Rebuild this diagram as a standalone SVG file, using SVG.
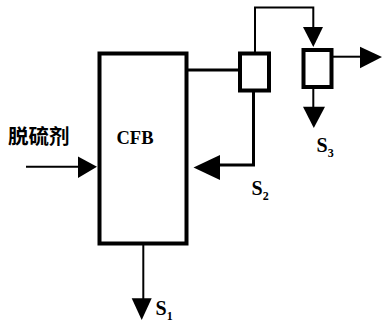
<svg xmlns="http://www.w3.org/2000/svg" width="382" height="325" viewBox="0 0 382 325">
<style>
.box{fill:#fff;stroke:#000;stroke-width:4}
.ln{fill:none;stroke:#000;stroke-width:2}
.lnb{fill:none;stroke:#000;stroke-width:3}
.ah{fill:#000;stroke:none}
.lbl{font-family:"Liberation Serif",serif;font-weight:bold;fill:#000}
.cjk{font-family:"Noto Sans CJK SC","Noto Sans CJK JP",sans-serif;font-weight:bold;fill:#000}
</style>
<rect width="382" height="325" fill="#fff"/>
<g id="connectors">
<path class="ln" d="M26,166.7 H80"/>
<polygon class="ah" points="78,156.5 97,166.7 78,178"/>
<path class="lnb" d="M188,70 H240"/>
<path class="ln" d="M255,52 V7.5 H313.3 V30"/>
<polygon class="ah" points="303,27 323,27 313.3,47"/>
<path class="lnb" d="M253.5,91 V165 H218"/>
<polygon class="ah" points="220,155 193.5,167.5 220,180"/>
<path class="ln" d="M333,56.7 H362"/>
<polygon class="ah" points="360,46.7 382,57 360,68.3"/>
<path class="ln" d="M313.3,87 V108"/>
<polygon class="ah" points="303,106.7 325,106.7 313.8,128"/>
<path class="ln" d="M143.3,244 V300"/>
<polygon class="ah" points="131.7,298.3 151.7,298.3 141.7,320"/>
</g>
<g id="cfb">
<rect class="box" x="99.5" y="53.5" width="87" height="190"/>
<text class="lbl" x="116.5" y="144" font-size="18.5">CFB</text>
</g>
<g id="sep1">
<rect class="box" x="240" y="53.5" width="29" height="37"/>
</g>
<g id="sep2">
<rect class="box" x="303.5" y="50" width="28" height="37"/>
</g>
<g id="labels">
<text class="cjk" x="8" y="144" font-size="20.5">脱硫剂</text>
<text class="lbl" x="251.5" y="195" font-size="20">S<tspan font-size="12" dy="5">2</tspan></text>
<text class="lbl" x="316.5" y="152" font-size="20">S<tspan font-size="12" dy="5">3</tspan></text>
<text class="lbl" x="155.5" y="315" font-size="20">S<tspan font-size="12" dy="5">1</tspan></text>
</g>
</svg>
